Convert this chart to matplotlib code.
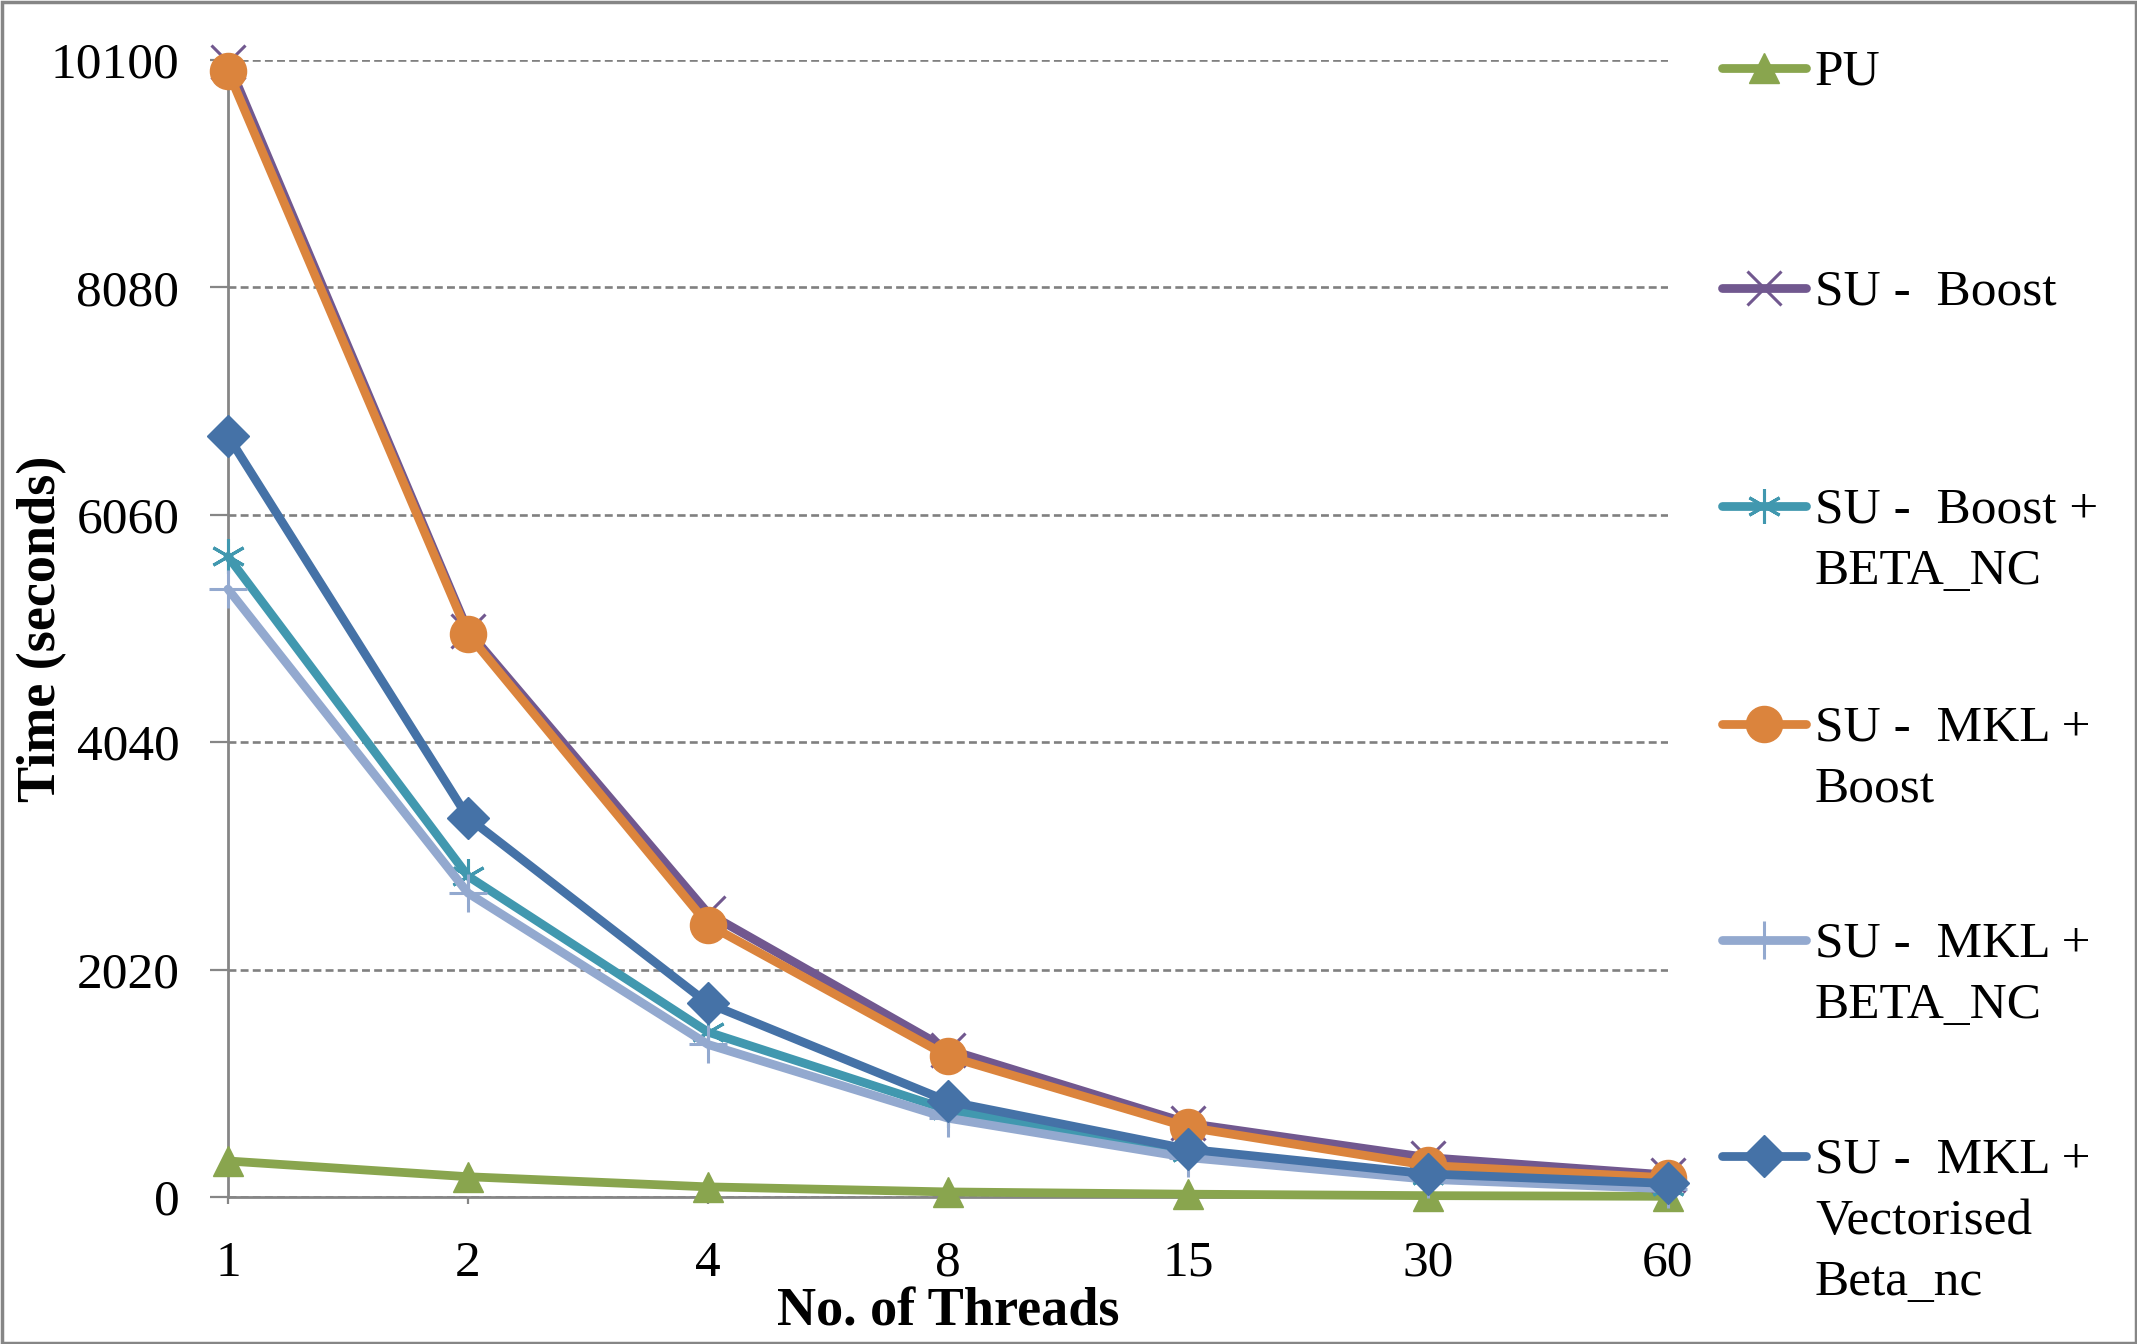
import matplotlib
matplotlib.use("Agg")
import matplotlib.pyplot as plt
from matplotlib.lines import Line2D
from matplotlib.patches import Rectangle

plt.rcParams['font.family'] = ['Liberation Serif', 'DejaVu Serif']

threads = ['1', '2', '4', '8', '15', '30', '60']
series_names = ['PU', 'SU -  Boost', 'SU -  Boost +\nBETA_NC', 'SU -  MKL +\nBoost',
                'SU -  MKL +\nBETA_NC', 'SU -  MKL +\nVectorised\nBeta_nc']
pu = [320, 180, 90, 45, 25, 12, 6]
su_boost = [10080, 5030, 2520, 1310, 655, 350, 195]
su_boost_beta = [5690, 2850, 1465, 775, 400, 195, 97]
su_mkl_boost = [10000, 5000, 2420, 1250, 620, 280, 170]
su_mkl_beta = [5400, 2700, 1355, 700, 350, 157, 73]
su_mkl_vec = [6760, 3370, 1720, 850, 425, 205, 120]
yticks = [0, 2020, 4040, 6060, 8080, 10100]

colors = ['#89A54E', '#71588F', '#4198AF', '#DB843D', '#93A9CF', '#4572A7']
markers = ['^', 'x', (6, 2, 0), 'o', '+', 'D']
msizes = [22, 25, 25, 26, 27, 21]
mews = [1, 2.2, 2.2, 1, 2.2, 1]
data = [pu, su_boost, su_boost_beta, su_mkl_boost, su_mkl_beta, su_mkl_vec]
LW = 6.3

W, H = 2137, 1344
fig = plt.figure(figsize=(W / 100, H / 100), dpi=100)
ax = fig.add_axes([228 / W, 1 - 1197 / H, 1440 / W, 1137 / H])

x = list(range(len(threads)))
for d, c, m, ms, mew in zip(data, colors, markers, msizes, mews):
    ax.plot(x, d, color=c, lw=LW, marker=m, markersize=ms, markeredgewidth=mew,
            markeredgecolor=c, markerfacecolor=c, clip_on=False, zorder=3,
            solid_capstyle='round', solid_joinstyle='round')

ax.set_xlim(0, 6)
ax.set_ylim(0, 10100)
ax.set_xticks(x)
ax.set_xticklabels(threads)
ax.set_yticks(yticks)
ax.set_yticklabels([str(t) for t in yticks])
ax.yaxis.grid(True, linestyle=(0, (3, 1.6)), color='#808080', lw=1.9)
ax.set_axisbelow(True)
for s in ['top', 'right']:
    ax.spines[s].set_visible(False)
for s in ['left', 'bottom']:
    ax.spines[s].set_color('#868686')
    ax.spines[s].set_linewidth(2)
ax.tick_params(axis='y', length=13, width=1.6, color='#868686', pad=22, labelsize=37)
ax.tick_params(axis='x', length=5, width=1.6, color='#868686', pad=26, labelsize=37)

ax.set_xlabel('No. of Threads', fontsize=39, fontweight='bold', va='center')
ax.xaxis.set_label_coords(0.5, (1197 - 1312) / 1137)
ax.set_ylabel('Time (seconds)', fontsize=39, fontweight='bold', va='center')
ax.yaxis.set_label_coords((42 - 228) / 1440, 0.5)

# manual legend
entry_y = [68, 288, 506, 724, 940, 1156]
for name, c, m, ms, mew, yy in zip(series_names, colors, markers, msizes, mews, entry_y):
    fy = 1 - yy / H
    fig.add_artist(Line2D([1722 / W, 1806 / W], [fy, fy], color=c, lw=LW,
                          solid_capstyle='round', transform=fig.transFigure))
    fig.add_artist(Line2D([1764 / W], [fy], color=c, marker=m, markersize=ms,
                          markeredgewidth=mew, markeredgecolor=c, markerfacecolor=c,
                          linestyle='none', transform=fig.transFigure))
    fig.text(1815 / W, fy + 19 / H, name, fontsize=37, va='top', ha='left',
             linespacing=1.41, transform=fig.transFigure)

fig.add_artist(Rectangle((1.5 / W, 1.5 / H), 1 - 3 / W, 1 - 3 / H, fill=False,
                         edgecolor='#868686', lw=2.5, transform=fig.transFigure))

fig.savefig('out.png', dpi=100)
